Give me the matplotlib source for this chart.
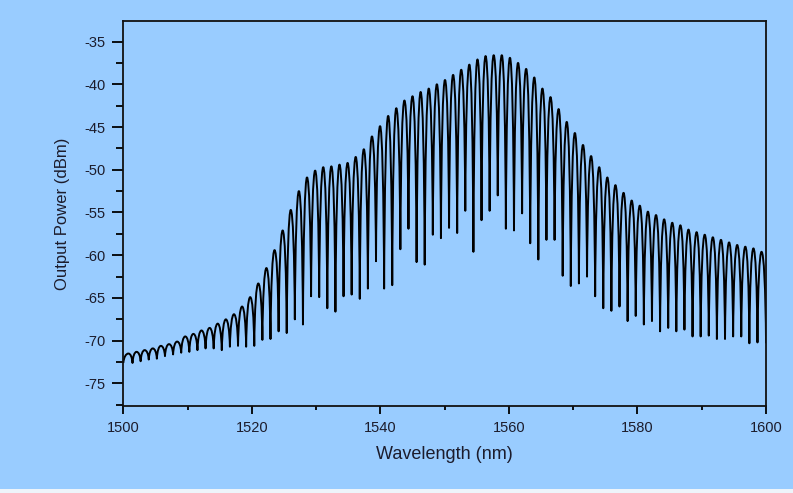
import numpy as np
import matplotlib
matplotlib.use("Agg")
import matplotlib.pyplot as plt
from matplotlib.path import Path
from matplotlib.patches import PathPatch, Rectangle
from matplotlib.ticker import MultipleLocator

# fringe comb: one peak and one dip per fringe
first_peak_nm = 1500.8
last_peak_nm = 1599.3
start_level = -72.6     # value at 1500 nm
end_level = -70.3       # value at 1600 nm

peak_dbm = [
    -71.5, -71.3, -71.1, -70.9, -70.6, -70.4, -70.1, -69.5, -69.2, -68.8,
    -68.5, -68.0, -67.5, -66.9, -66.0, -64.9, -63.3, -61.5, -59.4, -57.1,
    -54.7, -52.5, -50.9, -50.1, -49.7, -49.6, -49.4, -49.2, -48.5, -47.6,
    -46.1, -44.9, -43.7, -42.8, -41.9, -41.4, -40.9, -40.5, -40.0, -39.5,
    -38.9, -38.3, -37.7, -37.1, -36.7, -36.6, -36.6, -36.9, -37.5, -38.2,
    -39.2, -40.5, -41.5, -42.9, -44.4, -45.7, -47.1, -48.4, -49.7, -50.9,
    -51.8, -52.7, -53.6, -54.2, -54.9, -55.3, -55.8, -56.2, -56.5, -57.0,
    -57.3, -57.6, -57.9, -58.2, -58.5, -58.8, -59.0, -59.2, -59.6,
]
dip_dbm = [
    -72.6, -72.4, -72.2, -72.1, -71.8, -71.6, -71.4, -71.3, -71.1, -70.9,
    -70.9, -71.1, -70.7, -70.6, -70.7, -70.6, -69.9, -69.8, -68.9, -69.1,
    -67.5, -68.1, -64.8, -64.9, -66.2, -66.6, -64.8, -64.6, -65.1, -63.9,
    -60.7, -63.9, -63.5, -59.3, -56.9, -60.8, -61.1, -57.6, -58.0, -56.8,
    -57.4, -54.8, -59.6, -55.9, -54.8, -53.0, -56.9, -57.1, -55.1, -58.6,
    -60.5, -58.2, -58.2, -62.4, -63.6, -63.3, -62.5, -64.8, -66.2, -66.5,
    -66.0, -67.7, -67.1, -68.1, -67.7, -68.9, -68.5, -68.9, -68.7, -69.5,
    -69.5, -69.4, -69.8, -69.8, -69.5, -69.5, -70.3, -70.2,
]

x_ticks = [1500, 1520, 1540, 1560, 1580, 1600]
y_ticks = [-75, -70, -65, -60, -55, -50, -45, -40, -35]

bg = "#99ccff"
ink = "#1c1c2c"

plt.rcParams["font.family"] = ["Liberation Sans", "DejaVu Sans"]
plt.rcParams["axes.unicode_minus"] = False

fig = plt.figure(figsize=(7.93, 4.93), dpi=100, facecolor=bg)
ax = fig.add_axes([0.1555, 0.1771, 0.8105, 0.7803], facecolor=bg)

# vertices: dips at the ends, peaks and dips alternating in between
peaks_x = np.linspace(first_peak_nm, last_peak_nm, len(peak_dbm))
dips_x = (peaks_x[:-1] + peaks_x[1:]) / 2
pts = [(1500.0, start_level)]
for i in range(len(peak_dbm)):
    pts.append((peaks_x[i], peak_dbm[i]))
    if i < len(dip_dbm):
        pts.append((dips_x[i], dip_dbm[i]))
pts.append((1600.0, end_level))

# bezier between vertices: sharp dips, rounded tops
verts = [pts[0]]
codes = [Path.MOVETO]
for (x0, y0), (x1, y1) in zip(pts[:-1], pts[1:]):
    dx, dy = x1 - x0, y1 - y0
    if dy > 0:  # going up to a peak
        c1 = (x0 + 0.1 * dx, y0 + 0.6 * dy)
        c2 = (x1 - 0.5 * dx, y1)
    else:       # coming down to a dip
        c1 = (x0 + 0.5 * dx, y0)
        c2 = (x1 - 0.1 * dx, y1 - 0.6 * dy)
    verts += [c1, c2, (x1, y1)]
    codes += [Path.CURVE4] * 3
ax.add_patch(PathPatch(Path(verts, codes), facecolor="none",
                       edgecolor="black", lw=1.4, joinstyle="round"))

ax.set_xlim(1500, 1600)
ax.set_ylim(-77.6, -32.6)
ax.set_xticks(x_ticks)
ax.set_yticks(y_ticks)
ax.set_xticklabels([str(v) for v in x_ticks])
ax.set_yticklabels([str(v) for v in y_ticks])
ax.xaxis.set_minor_locator(MultipleLocator(10))
ax.yaxis.set_minor_locator(MultipleLocator(2.5))
ax.tick_params(axis="y", which="major", direction="out", length=8, width=1.3,
               pad=5, labelsize=10.5, labelcolor=ink)
ax.tick_params(axis="y", which="minor", direction="out", length=5, width=1.3)
ax.tick_params(axis="x", which="major", direction="out", length=6, width=1.3,
               pad=5, labelsize=10.5, labelcolor=ink)
ax.tick_params(axis="x", which="minor", direction="out", length=3, width=1.3)
for s in ax.spines.values():
    s.set_linewidth(1.3)
    s.set_color("#111111")

ax.set_xlabel("Wavelength (nm)", fontsize=13, color=ink, labelpad=8)
ax.set_ylabel("Output Power (dBm)", fontsize=12, color=ink, labelpad=10)

# thin light strip along the bottom edge of the picture
fig.patches.append(Rectangle((0, 0), 1, 0.008, transform=fig.transFigure,
                             facecolor="#eef4fa", edgecolor="none"))

fig.savefig("out.png", dpi=100, facecolor=bg)
